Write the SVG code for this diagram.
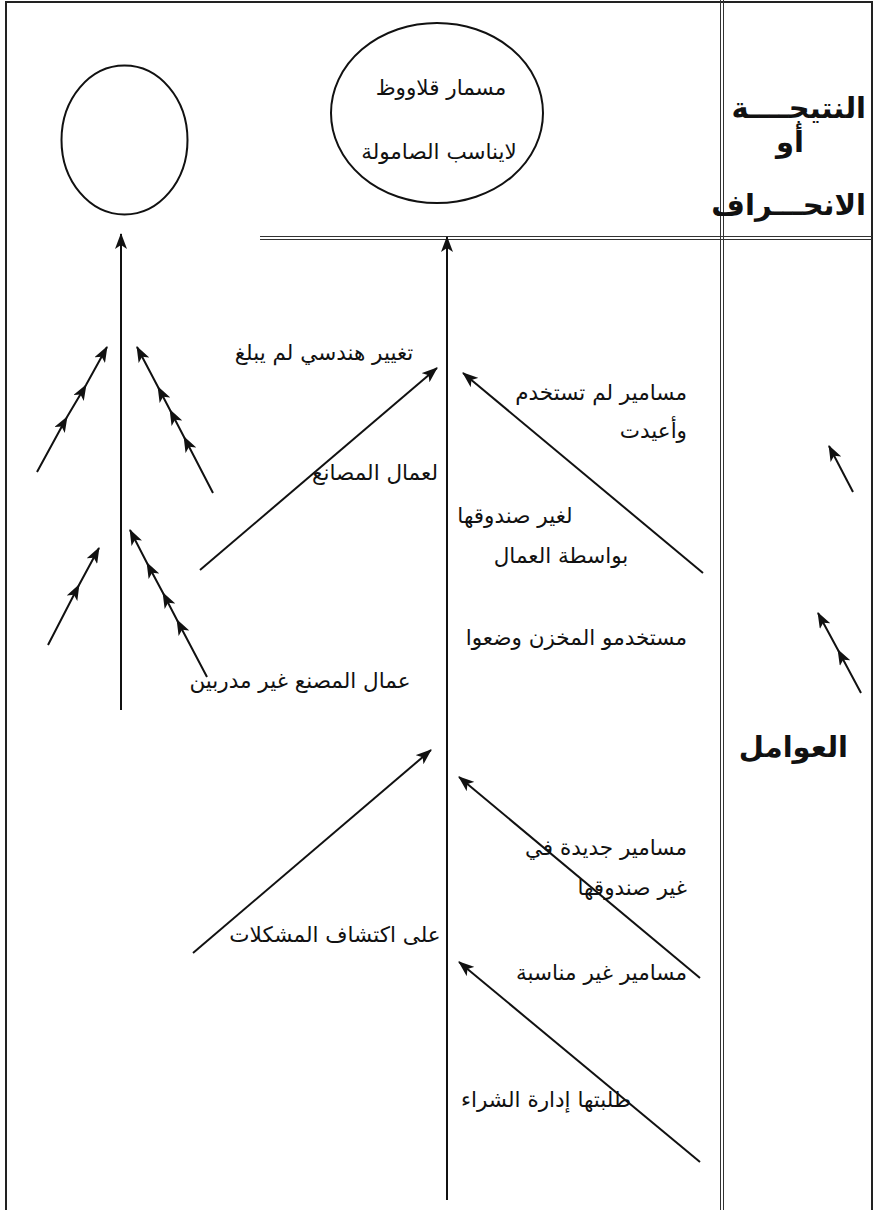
<svg xmlns="http://www.w3.org/2000/svg" width="874" height="1217" viewBox="0 0 874 1217">
<style>
.frame{fill:none;stroke:#222;stroke-width:2}
.dbl{fill:none;stroke:#333;stroke-width:1}
.node{fill:none;stroke:#111;stroke-width:2}
.arr{fill:none;stroke:#111;stroke-width:2;marker-end:url(#ah)}
.arrm{fill:none;stroke:#111;stroke-width:2;marker-end:url(#ah);marker-mid:url(#ah)}
.t{font-family:"DejaVu Sans","Noto Sans",sans-serif;font-size:21.5px;fill:#111}
.b{font-family:"DejaVu Sans","Liberation Sans",sans-serif;font-size:29px;font-weight:bold;fill:#111}
</style>
<defs>
<marker id="ah" markerUnits="userSpaceOnUse" markerWidth="16" markerHeight="12" refX="15" refY="6" orient="auto">
<path d="M0,0 L16,6 L0,12 L4,6 Z" fill="#111"/>
</marker>
</defs>
<g id="frame">
<path class="frame" d="M6,1210 V2 H872 V1210"/>
<line class="dbl" x1="720.5" y1="0" x2="720.5" y2="1210"/>
<line class="dbl" x1="723.5" y1="0" x2="723.5" y2="1210"/>
<line class="dbl" x1="260" y1="236.5" x2="872" y2="236.5"/>
<line class="dbl" x1="260" y1="239.5" x2="872" y2="239.5"/>
</g>
<g id="node-left-outcome">
<ellipse class="node" cx="124.5" cy="140" rx="63" ry="74.5"/>
</g>
<g id="node-outcome">
<ellipse class="node" cx="437" cy="113" rx="106" ry="90"/>
<text class="t" x="441" y="95" text-anchor="middle" font-size="24">مسمار قلاووظ</text>
<text class="t" x="439" y="159" text-anchor="middle" font-size="19.5">لايناسب الصامولة</text>
</g>
<g id="header">
<text class="b" x="866" y="118" text-anchor="end">النتيجــــة</text>
<text class="b" x="790" y="152" text-anchor="middle">أو</text>
<text class="b" x="866" y="215" text-anchor="end">الانحـــراف</text>
<text class="b" x="848" y="757" text-anchor="end" font-size="25">العوامل</text>
</g>
<g id="labels">
<text class="t" x="324" y="360" text-anchor="middle">تغيير هندسي لم يبلغ</text>
<text class="t" x="375" y="480" text-anchor="middle">لعمال المصانع</text>
<text class="t" x="687" y="400" text-anchor="end">مسامير لم تستخدم</text>
<text class="t" x="687" y="438" text-anchor="end">وأعيدت</text>
<text class="t" x="515" y="523" text-anchor="middle">لغير صندوقها</text>
<text class="t" x="561" y="563" text-anchor="middle">بواسطة العمال</text>
<text class="t" x="687" y="645" text-anchor="end">مستخدمو المخزن وضعوا</text>
<text class="t" x="300" y="688" text-anchor="middle">عمال المصنع غير مدربين</text>
<text class="t" x="335" y="942" text-anchor="middle">على اكتشاف المشكلات</text>
<text class="t" x="687" y="855" text-anchor="end">مسامير جديدة في</text>
<text class="t" x="687" y="895" text-anchor="end">غير صندوقها</text>
<text class="t" x="687" y="980" text-anchor="end">مسامير غير مناسبة</text>
<text class="t" x="546" y="1107" text-anchor="middle">طلبتها إدارة الشراء</text>
</g>
<g id="connectors">
<line class="arr" x1="121" y1="710" x2="121" y2="234"/>
<line class="arr" x1="447" y1="1200" x2="447" y2="237"/>
<polyline class="arrm" points="37,472 67,417 86,385 107,347"/>
<polyline class="arrm" points="213,493 184,437 170,410 158,387 137,347"/>
<polyline class="arrm" points="48,645 79,585 99,548"/>
<polyline class="arrm" points="207,677 177,620 163,593 147,563 130,530"/>
<line class="arr" x1="200" y1="570" x2="437" y2="368"/>
<line class="arr" x1="703" y1="573" x2="463" y2="373"/>
<line class="arr" x1="193" y1="953" x2="431" y2="750"/>
<line class="arr" x1="700" y1="978" x2="459" y2="777"/>
<line class="arr" x1="700" y1="1162" x2="459" y2="962"/>
<line class="arr" x1="853" y1="492" x2="829" y2="446"/>
<polyline class="arrm" points="861,693 838,650 818,613"/>
</g>
</svg>
